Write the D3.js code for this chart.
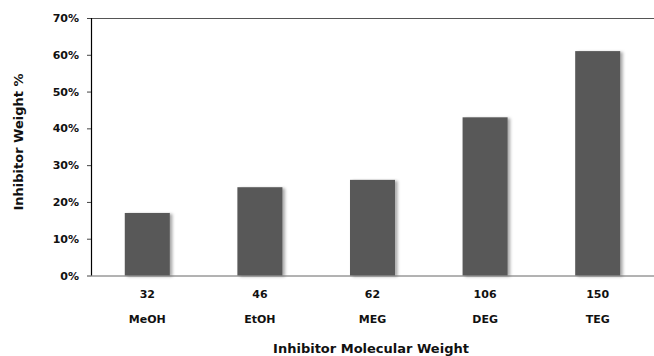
<!DOCTYPE html>
<html>
<head>
<meta charset="utf-8">
<script src="https://cdn.jsdelivr.net/npm/d3@7"></script>
<style>
  body { margin: 0; background: #fff; }
  text { font-family: "DejaVu Sans", Verdana, sans-serif; font-weight: bold; fill: #111; }
</style>
</head>
<body>
<div id="chart"></div>
<script>
// data
var weights = ["32", "46", "62", "106", "150"];
var inhibitors = ["MeOH", "EtOH", "MEG", "DEG", "TEG"];
var percents = [17, 24, 26, 43, 61];
var yTicks = [0, 10, 20, 30, 40, 50, 60, 70];

var svgWidth = 654, svgHeight = 356;
var margin = { top: 18, right: 0, bottom: 80.5, left: 91 };
var width = svgWidth - margin.left - margin.right;
var height = svgHeight - margin.top - margin.bottom;

var svg = d3.select("#chart").append("svg")
  .attr("width", svgWidth)
  .attr("height", svgHeight);

// soft shadow behind the bars
var filter = svg.append("defs").append("filter")
  .attr("id", "shadow")
  .attr("x", "-20%").attr("y", "-10%")
  .attr("width", "150%").attr("height", "130%");
filter.append("feDropShadow")
  .attr("dx", 2.5).attr("dy", 1)
  .attr("stdDeviation", 1.5)
  .attr("flood-color", "#000")
  .attr("flood-opacity", 0.35);

var chartGroup = svg.append("g")
  .attr("transform", `translate(${margin.left}, ${margin.top})`);

var xScale = d3.scaleBand()
  .domain(inhibitors)
  .range([0, width])
  .paddingInner(0.6)
  .paddingOuter(0.3);

var yScale = d3.scaleLinear()
  .domain([0, 70])
  .range([height, 0]);

// top border line
chartGroup.append("line")
  .attr("x1", 0).attr("x2", width)
  .attr("y1", 0.5).attr("y2", 0.5)
  .attr("stroke", "#555");

// bars
chartGroup.selectAll("rect.bar")
  .data(percents)
  .enter()
  .append("rect")
  .attr("class", "bar")
  .attr("x", (d, i) => xScale(inhibitors[i]))
  .attr("y", d => yScale(d))
  .attr("width", xScale.bandwidth())
  .attr("height", d => height - yScale(d))
  .attr("fill", "#595959")
  .attr("filter", "url(#shadow)");

// x axis line
chartGroup.append("line")
  .attr("x1", 0).attr("x2", width)
  .attr("y1", height + 0.5).attr("y2", height + 0.5)
  .attr("stroke", "#666");

// y axis
var yAxis = d3.axisLeft(yScale)
  .tickValues(yTicks)
  .tickFormat(d => d + "%")
  .tickSize(4)
  .tickPadding(8);

var yAxisGroup = chartGroup.append("g").call(yAxis);
yAxisGroup.select(".domain").attr("stroke", "#000").attr("stroke-width", 1.2)
  .attr("d", `M0.5,0V${height}`);
yAxisGroup.selectAll(".tick line").attr("stroke", "#444");
yAxisGroup.selectAll(".tick text")
  .attr("font-size", "11px")
  .attr("font-family", "DejaVu Sans, sans-serif")
  .attr("font-weight", "bold")
  .attr("fill", "#111");

// x labels: molecular weight and name
var xLabels = chartGroup.selectAll("g.xlab")
  .data(inhibitors)
  .enter()
  .append("g")
  .attr("class", "xlab")
  .attr("transform", d => `translate(${xScale(d) + xScale.bandwidth() / 2}, ${height})`);

xLabels.append("text")
  .attr("text-anchor", "middle")
  .attr("y", 22)
  .attr("font-size", "11px")
  .text((d, i) => weights[i]);

xLabels.append("text")
  .attr("text-anchor", "middle")
  .attr("y", 47)
  .attr("font-size", "11px")
  .text(d => d);

// axis titles
svg.append("text")
  .attr("text-anchor", "middle")
  .attr("x", 371)
  .attr("y", 353)
  .attr("font-size", "13px")
  .text("Inhibitor Molecular Weight");

svg.append("text")
  .attr("text-anchor", "middle")
  .attr("transform", "translate(23, 142) rotate(-90)")
  .attr("font-size", "13px")
  .text("Inhibitor Weight %");
</script>
</body>
</html>
